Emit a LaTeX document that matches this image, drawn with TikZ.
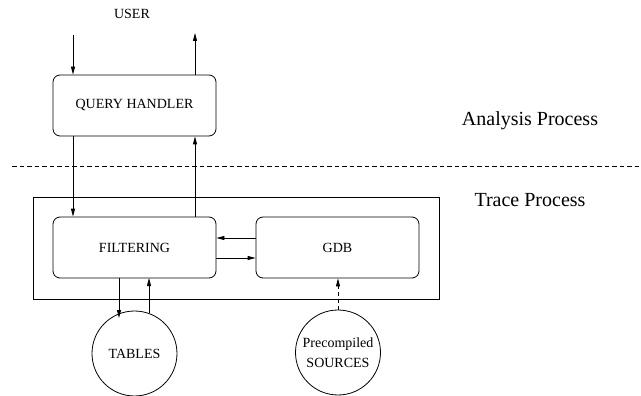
\documentclass[tikz,border=0pt]{standalone}
\usepackage{fontspec}
\setmainfont{Liberation Serif}
\usetikzlibrary{arrows.meta}
\begin{document}
\begin{tikzpicture}[x=1pt,y=-1pt,
  line width=0.8pt,
  >={Triangle[length=8pt,width=4pt]},
  box/.style={draw,rounded corners=7pt,minimum width=163pt,minimum height=61pt,inner sep=0pt,font=\fontsize{14}{16}\selectfont},
  store/.style={draw,circle,minimum size=85pt,inner sep=0pt,align=center,font=\fontsize{14}{20}\selectfont},
  lbl/.style={font=\fontsize{14}{16}\selectfont},
  big/.style={font=\fontsize{20}{24}\selectfont}]
\useasboundingbox (0,0) rectangle (641,396);

% process boundary
\draw[dash pattern=on 4.5pt off 3pt] (12,166) -- (641,166);
\node[big] (ap) at (530,121) {Analysis Process};
\node[big] (tp) at (530,200) {Trace Process};

% trace process container
\draw (33,197) rectangle (439,299);

% components
\node[box] (qh) at (134.5,105.5) {QUERY HANDLER};
\node[box] (flt) at (134.5,247.5) {FILTERING};
\node[box] (gdb) at (337.5,247.5) {GDB};
\node[store] (tab) at (134.5,353.5) {TABLES};
\node[store] (src) at (338,352.5) {Precompiled\\SOURCES};

\node[lbl] (user) at (132,14) {USER};
\coordinate (uin) at (73,35);
\coordinate (uout) at (195,33);

% user interaction
\draw[->] (uin) -- (uin |- qh.north);
\draw[->] (uout |- qh.north) -- (uout);

% query handler <-> filtering
\draw[->] (uin |- qh.south) -- (uin |- flt.north);
\draw[->] (uout |- flt.north) -- (uout |- qh.south);

% filtering <-> gdb
\draw[->] (gdb.west |- 0,238) -- (flt.east |- 0,238);
\draw[->] (flt.east |- 0,258) -- (gdb.west |- 0,258);

% filtering <-> tables
\draw[->] (119,278) -- (119,318);
\draw[->] (149,313) -- (149,278);

% sources feed gdb
\draw[->,dash pattern=on 4pt off 3pt] (src.north) -- (gdb.south -| src.north);
\end{tikzpicture}
\end{document}
